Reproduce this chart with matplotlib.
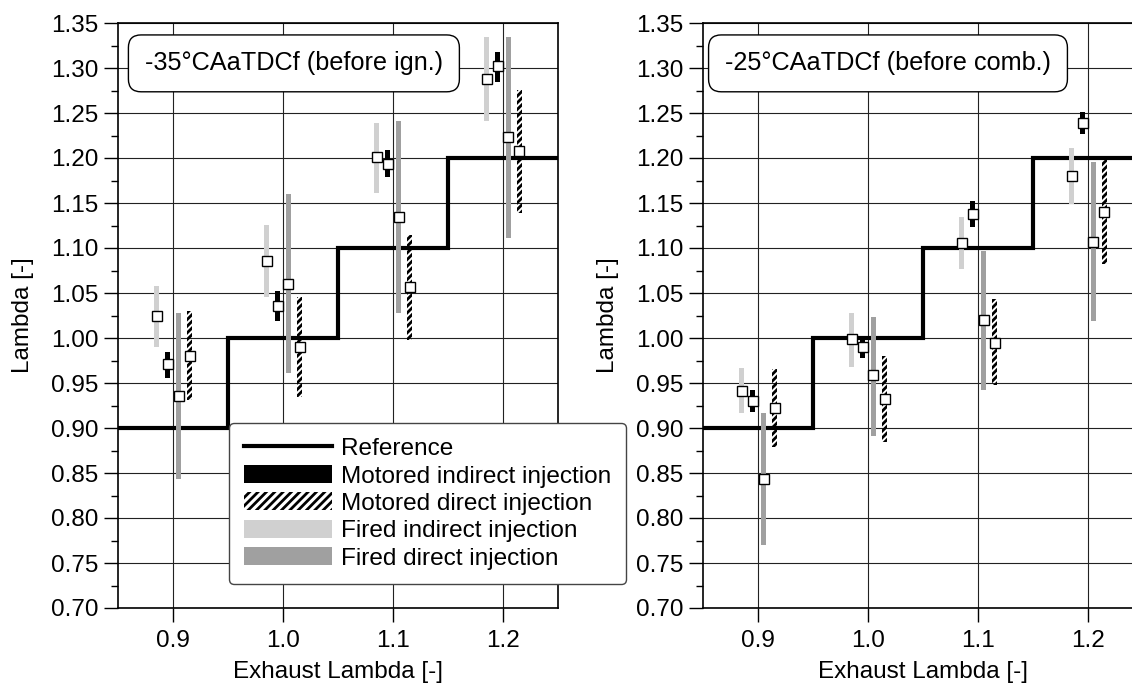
import numpy as np
import matplotlib
matplotlib.use("Agg")
from matplotlib import pyplot as plt
from matplotlib.lines import Line2D
from matplotlib.patches import Patch
from matplotlib.ticker import MultipleLocator, FormatStrFormatter

plt.rcParams['font.family'] = ['Liberation Sans', 'DejaVu Sans']
plt.rcParams['font.size'] = 17.5
plt.rcParams['hatch.linewidth'] = 2.0

# exhaust lambda set points and the reference staircase
groups = [0.9, 1.0, 1.1, 1.2]
ref_edges = [0.85, 0.95, 1.05, 1.15, 1.25]
ref_levels = [0.90, 1.00, 1.10, 1.20]

# left panel: -35 CAaTDCf (before ign.)
l_fired_ind_mid = [1.024, 1.086, 1.2015, 1.288]
l_fired_ind_lo = [0.990, 1.046, 1.1615, 1.2415]
l_fired_ind_hi = [1.058, 1.126, 1.2385, 1.335]
l_mot_ind_mid = [0.971, 1.036, 1.193, 1.3026]
l_mot_ind_lo = [0.956, 1.019, 1.1785, 1.285]
l_mot_ind_hi = [0.985, 1.0526, 1.209, 1.318]
l_fired_dir_mid = [0.9356, 1.060, 1.1348, 1.223]
l_fired_dir_lo = [0.843, 0.961, 1.028, 1.1108]
l_fired_dir_hi = [1.028, 1.160, 1.2415, 1.334]
l_mot_dir_mid = [0.980, 0.990, 1.0563, 1.208]
l_mot_dir_lo = [0.931, 0.935, 0.998, 1.1385]
l_mot_dir_hi = [1.030, 1.046, 1.1144, 1.2756]

# right panel: -25 CAaTDCf (before comb.)
r_fired_ind_mid = [0.941, 0.9985, 1.1052, 1.1797]
r_fired_ind_lo = [0.917, 0.968, 1.0767, 1.1489]
r_fired_ind_hi = [0.9663, 1.028, 1.1348, 1.2115]
r_mot_ind_mid = [0.930, 0.990, 1.1374, 1.2385]
r_mot_ind_lo = [0.9174, 0.9774, 1.123, 1.2263]
r_mot_ind_hi = [0.942, 1.0026, 1.1526, 1.2515]
r_fired_dir_mid = [0.843, 0.9589, 1.0196, 1.107]
r_fired_dir_lo = [0.7697, 0.8915, 0.9422, 1.0193]
r_fired_dir_hi = [0.9163, 1.0237, 1.0967, 1.1952]
r_mot_dir_mid = [0.922, 0.9322, 0.9948, 1.1404]
r_mot_dir_lo = [0.8785, 0.884, 0.9478, 1.0822]
r_mot_dir_hi = [0.9652, 0.980, 1.043, 1.1978]

LIGHT = '#d0d0d0'
MID = '#a0a0a0'

# (offset, face, hatch, width)
styles = {
    'fired_ind': (-0.015, LIGHT, None, 0.0040),
    'mot_ind': (-0.005, 'black', None, 0.0045),
    'fired_dir': (0.005, MID, None, 0.0040),
    'mot_dir': (0.015, 'none', '/////', 0.0045),
}


def draw_series(ax, key, mid, lo, hi):
    off, face, hatch, w = styles[key]
    x = np.array(groups) + off
    lo = np.array(lo)
    hi = np.array(hi)
    if hatch:
        ax.bar(x, hi - lo, bottom=lo, width=w, facecolor='none',
               edgecolor='black', hatch=hatch, linewidth=0, zorder=3)
    else:
        ax.bar(x, hi - lo, bottom=lo, width=w, color=face, linewidth=0, zorder=3)
    ax.plot(x, mid, 's', ms=7, mfc='white', mec='black', mew=1.0, zorder=5)


def panel(ax, data, label, tx):
    ax.stairs(ref_levels, ref_edges, baseline=None, color='black', lw=3, zorder=2.5)
    for key, (mid, lo, hi) in data.items():
        draw_series(ax, key, mid, lo, hi)
    ax.set_xlim(0.85, 1.25)
    ax.set_ylim(0.70, 1.35)
    ax.set_xticks(groups)
    ax.xaxis.set_major_formatter(FormatStrFormatter('%.1f'))
    ax.yaxis.set_major_locator(MultipleLocator(0.05))
    ax.yaxis.set_minor_locator(MultipleLocator(0.025))
    ax.yaxis.set_major_formatter(FormatStrFormatter('%.2f'))
    ax.tick_params(which='major', direction='out', length=10, width=1, pad=4)
    ax.tick_params(axis='x', which='major', pad=6)
    ax.tick_params(which='minor', direction='out', length=5, width=1)
    ax.grid(True, which='major', color='#222222', lw=0.8, zorder=1)
    ax.set_axisbelow(True)
    for s in ax.spines.values():
        s.set_linewidth(1.2)
    ax.set_xlabel('Exhaust Lambda [-]', labelpad=6)
    ax.set_ylabel('Lambda [-]', labelpad=12)
    ax.text(tx, 0.931, label, transform=ax.transAxes, ha='left', va='center',
            zorder=6, fontsize=18.2,
            bbox=dict(boxstyle='round,pad=0.65,rounding_size=0.5',
                      fc='white', ec='black', lw=1.0))


fig = plt.figure(figsize=(11.32, 6.87), dpi=100)
ax1 = fig.add_axes([118 / 1132, 79 / 687, 440 / 1132, 585 / 687])
ax2 = fig.add_axes([703 / 1132, 79 / 687, 440 / 1132, 585 / 687])

panel(ax1, {
    'fired_ind': (l_fired_ind_mid, l_fired_ind_lo, l_fired_ind_hi),
    'mot_ind': (l_mot_ind_mid, l_mot_ind_lo, l_mot_ind_hi),
    'fired_dir': (l_fired_dir_mid, l_fired_dir_lo, l_fired_dir_hi),
    'mot_dir': (l_mot_dir_mid, l_mot_dir_lo, l_mot_dir_hi),
}, '-35°CAaTDCf (before ign.)', 0.061)

panel(ax2, {
    'fired_ind': (r_fired_ind_mid, r_fired_ind_lo, r_fired_ind_hi),
    'mot_ind': (r_mot_ind_mid, r_mot_ind_lo, r_mot_ind_hi),
    'fired_dir': (r_fired_dir_mid, r_fired_dir_lo, r_fired_dir_hi),
    'mot_dir': (r_mot_dir_mid, r_mot_dir_lo, r_mot_dir_hi),
}, '-25°CAaTDCf (before comb.)', 0.05)

handles = [
    Line2D([], [], color='black', lw=3),
    Patch(facecolor='black', edgecolor='none'),
    Patch(facecolor='white', edgecolor='black', hatch='////', lw=0),
    Patch(facecolor=LIGHT, edgecolor='none'),
    Patch(facecolor=MID, edgecolor='none'),
]
labels = ['Reference', 'Motored indirect injection', 'Motored direct injection',
          'Fired indirect injection', 'Fired direct injection']
leg = fig.legend(handles, labels, loc='upper left',
                 bbox_to_anchor=(229 / 1132, 1 - 423 / 687),
                 fancybox=True, framealpha=1, edgecolor='#444444',
                 prop={'size': 17.6},
                 handlelength=3.6, handleheight=0.75, handletextpad=0.4,
                 labelspacing=0.2, borderpad=0.6, borderaxespad=0)
leg.get_frame().set_linewidth(1.0)

fig.savefig('out.png', dpi=100)
